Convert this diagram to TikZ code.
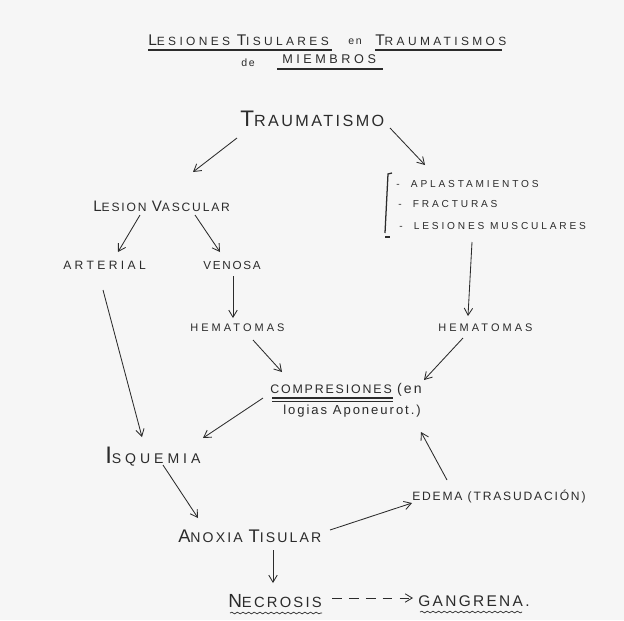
\documentclass[tikz,border=0pt]{standalone}
\usepackage{fontspec}
\setmainfont{Liberation Sans}
\newfontfamily\hand[LetterSpace=15]{Liberation Sans}
\newfontfamily\handw[LetterSpace=28]{Liberation Sans}
\newcommand\In[2]{{\fontsize{#1}{#1}\selectfont #2}}
\usetikzlibrary{arrows.meta,decorations.pathmorphing}
\definecolor{ink}{HTML}{2B2B2B}
\definecolor{paper}{HTML}{F6F6F6}
\tikzset{
  lbl/.style={inner sep=0pt, text=ink, font=\hand\fontsize{8}{10}\selectfont},
  arr/.style={draw=ink, line width=0.6pt, -{Straight Barb[length=5pt,width=6pt]}},
  uline/.style={draw=ink, line width=0.8pt},
  wavy/.style={draw=ink, line width=0.5pt, decorate, decoration={snake, amplitude=0.6pt, segment length=4pt}}
}
\begin{document}
\begin{tikzpicture}[x=0.025cm, y=-0.025cm]
\useasboundingbox[fill=paper] (0,0) rectangle (624,620);
% title
\node[lbl, anchor=west, font=\handw\fontsize{8.5}{10}\selectfont] (t1) at (148,40) {\In{11}{L}ESIONES \In{11}{T}ISULARES};
\node[lbl, font=\hand\fontsize{7.5}{9}\selectfont] (ten) at (355,42) {en};
\node[lbl, anchor=west, font=\handw\fontsize{8.5}{10}\selectfont] (t2) at (375,40) {\In{11}{T}RAUMATISMOS};
\node[lbl, font=\hand\fontsize{7.5}{9}\selectfont] (tde) at (248,63) {de};
\node[lbl, anchor=west, font=\handw\fontsize{9}{10}\selectfont] (t3) at (282,59) {MIEMBROS};
\coordinate (u1a) at (148,50); \coordinate (u1b) at (332,50);
\coordinate (u2a) at (375,50); \coordinate (u2b) at (502,50);
\coordinate (u3a) at (277,69); \coordinate (u3b) at (383,69);
\draw[uline] (u1a) -- (u1b);
\draw[uline] (u2a) -- (u2b);
\draw[uline] (u3a) -- (u3b);
% nodes
\node[lbl, anchor=west, font=\hand\fontsize{11.5}{13}\selectfont] (trau) at (240,119) {\In{16}{T}RAUMATISMO};
\node[lbl, anchor=west, font=\hand\fontsize{8.6}{10}\selectfont] (lv) at (93,206) {\In{10.8}{L}ESION \In{10.8}{V}ASCULAR};
\node[lbl, anchor=west, font=\handw\fontsize{8.6}{10}\selectfont] (art) at (63,265) {ARTERIAL};
\node[lbl, anchor=west, font=\hand\fontsize{8.3}{10}\selectfont] (ven) at (203,265) {VENOSA};
\node[lbl, anchor=west, font=\handw\fontsize{7.8}{9}\selectfont] (hem1) at (190,328) {HEMATOMAS};
\node[lbl, anchor=west, font=\handw\fontsize{7.8}{9}\selectfont] (hem2) at (438,328) {HEMATOMAS};
\node[lbl, anchor=west, font=\handw\fontsize{7.2}{9}\selectfont] (apl) at (396,184) {-\ \ APLASTAMIENTOS};
\node[lbl, anchor=west, font=\handw\fontsize{7.2}{9}\selectfont] (fra) at (398,204) {-\ \ FRACTURAS};
\node[lbl, anchor=west, font=\handw\fontsize{7.2}{9}\selectfont] (les) at (399,226) {-\ \ LESIONES MUSCULARES};
\coordinate (brtop) at (388,174);
\coordinate (brbot) at (385,233);
\draw[ink, line width=0.9pt] ([shift={(4,-1)}]brtop) -- (brtop) -- (brbot);
\draw[ink, line width=1.2pt] ([shift={(0,4)}]brbot) -- ([shift={(5,4)}]brbot);
\node[lbl, anchor=west, font=\hand\fontsize{8.8}{10}\selectfont] (comp) at (270,390) {COMPRESIONES \In{10}{(en}};
\node[lbl, anchor=west, font=\hand\fontsize{9.3}{11}\selectfont] (log) at (283,411) {logias Aponeurot.)};
\coordinate (cu1) at (272,398);
\coordinate (cu2) at (393,398);
\draw[uline] (cu1) -- (cu2);
\draw[uline] ([yshift=-2.2pt]cu1) -- ([yshift=-2.2pt]cu2);
\node[lbl, anchor=west, font=\handw\fontsize{10}{12}\selectfont] (isq) at (105,457) {\In{17}{I}SQUEMIA};
\node[lbl, anchor=west, font=\hand\fontsize{10}{11}\selectfont] (anox) at (178,536) {\In{13}{A}NOXIA \In{13}{T}ISULAR};
\node[lbl, anchor=west, font=\hand\fontsize{8.6}{10}\selectfont] (ede) at (412,496) {EDEMA (TRASUDACIÓN)};
\node[lbl, anchor=west, font=\hand\fontsize{10.5}{12}\selectfont] (nec) at (228,601) {\In{13.5}{N}ECROSIS};
\node[lbl, anchor=west, font=\hand\fontsize{11}{12}\selectfont] (gan) at (418,601) {GANGRENA.};
\coordinate (w1a) at (230,613); \coordinate (w1b) at (322,613);
\coordinate (w2a) at (420,612); \coordinate (w2b) at (522,612);
\draw[wavy] (w1a) -- (w1b);
\draw[wavy] (w2a) -- (w2b);
% arrows (offsets from anchors, in picture units)
\draw[arr] ([shift={(-3,19)}]trau.west) -- ([shift={(100,-34)}]lv.west);
\draw[arr] ([shift={(150,9)}]trau.west) -- ([shift={(29,-19)}]apl.west);
\draw[arr] ([shift={(47,9)}]lv.west) -- ([shift={(55,-13)}]art.west);
\draw[arr] ([shift={(102,9)}]lv.west) -- ([shift={(17,-13)}]ven.west);
\draw[arr] ([shift={(30,11)}]ven.west) -- ([shift={(43,-10)}]hem1.west);
\draw[arr] ([shift={(73,16)}]les.west) -- ([shift={(30,-12)}]hem2.west);
\draw[arr] ([shift={(63,12)}]hem1.west) -- ([shift={(12,-18)}]comp.west);
\draw[arr] ([shift={(25,10)}]hem2.west) -- ([shift={(154,-10)}]comp.west);
\draw[arr] ([shift={(40,25)}]art.west) -- ([shift={(37,-20)}]isq.west);
\draw[arr] ([shift={(-7,8)}]comp.west) -- ([shift={(98,-19)}]isq.west);
\draw[arr] ([shift={(58,8)}]isq.west) -- ([shift={(20,-18)}]anox.west);
\draw[arr] ([shift={(152,-6)}]anox.west) -- ([shift={(0,7)}]ede.west);
\draw[arr] ([shift={(35,-16)}]ede.west) -- ([shift={(138,21)}]log.west);
\draw[arr] ([shift={(95,14)}]anox.west) -- ([shift={(45,-18)}]nec.west);
\draw[draw=ink, line width=0.6pt, dash pattern=on 7pt off 5pt, -{Straight Barb[length=5pt,width=6pt]}] ([shift={(104,-3)}]nec.west) -- ([shift={(-5,-3)}]gan.west);
\end{tikzpicture}
\end{document}
